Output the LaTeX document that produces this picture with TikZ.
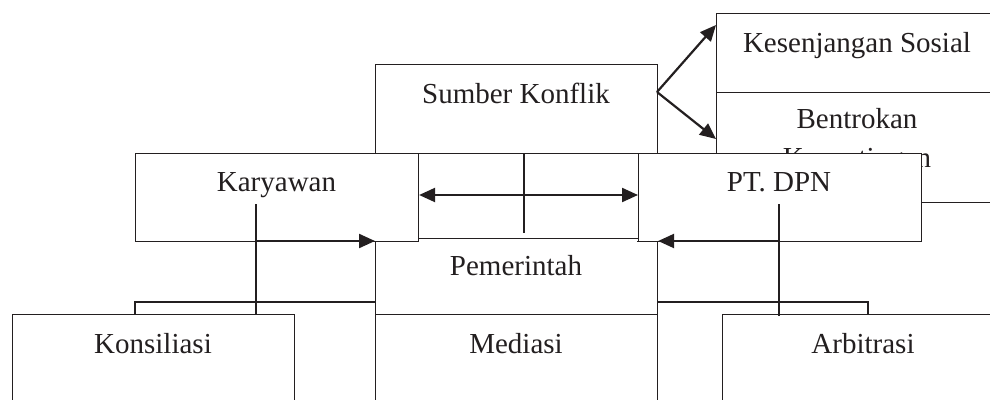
\documentclass[tikz,border=0pt]{standalone}
\usepackage{fontspec}
\setmainfont{Liberation Serif}
\usetikzlibrary{arrows.meta}
\definecolor{ink}{RGB}{35,31,32}
\begin{document}
\begin{tikzpicture}[x=1pt,y=-1pt,
  box/.style={draw=ink, line width=1.1pt, fill=white, rectangle, inner sep=0pt, anchor=north west},
  txt/.style={inner sep=0pt, anchor=base, text=ink, font=\fontsize{29}{35}\selectfont},
  thin/.style={draw=ink, line width=1.1pt},
  arr/.style={draw=ink, line width=2.2pt, -{Triangle[length=16pt,width=14pt]}},
  darr/.style={draw=ink, line width=2.2pt, {Triangle[length=16pt,width=14pt]}-{Triangle[length=16pt,width=14pt]}}]
\useasboundingbox (0,0) rectangle (990,399);
\clip (0,0) rectangle (990,399);
% right column
\node[box, minimum width=282pt, minimum height=79pt] (kes) at (716,13) {};
\node[txt] (kes-t) at (857,52) {Kesenjangan Sosial};
\node[box, minimum width=282pt, minimum height=110pt] (ben) at (716,92) {};
\node[txt] (ben-t1) at (857,128) {Bentrokan};
\node[txt] (ben-t2) at (857,167) {Kepentingan};
% centre
\node[box, minimum width=282pt, minimum height=89pt] (sk) at (375,64) {};
\node[txt] (sk-t) at (516,103) {Sumber Konflik};
\node[box, minimum width=282pt, minimum height=73pt] (pem) at (375,241) {};
\node[txt] (pem-t) at (516,275) {Pemerintah};
\fill[white] (419,236) rectangle (637,242.5);
\node[box, minimum width=220pt, minimum height=85pt] (mid) at (418,153) {};
\node[box, minimum width=282pt, minimum height=110pt] (med) at (375,314) {};
\node[txt] (med-t) at (516,353) {Mediasi};
\node[box, minimum width=282pt, minimum height=110pt] (kon) at (12,314) {};
\node[txt] (kon-t) at (153,353) {Konsiliasi};
\node[box, minimum width=282pt, minimum height=110pt] (arb) at (722,314) {};
\node[txt] (arb-t) at (863,353) {Arbitrasi};
% parties
\node[box, minimum width=283pt, minimum height=88pt] (kar) at (135,153) {};
\node[txt] (kar-t) at (276.5,191) {Karyawan};
\node[box, minimum width=283pt, minimum height=88pt] (dpn) at (638,153) {};
\node[txt] (dpn-t) at (779,191) {PT. DPN};
% coordinates
\coordinate (skout) at (657,92);
\coordinate (kesin) at (716,25);
\coordinate (benin) at (716,139);
\coordinate (karv) at (256,204);
\coordinate (karb) at (256,241);
\coordinate (konv) at (256,315);
\coordinate (dpnv) at (779,204);
\coordinate (dpnb) at (779,241);
\coordinate (arbv) at (779,316);
\coordinate (midv1) at (524,153);
\coordinate (midv2) at (524,233);
\coordinate (lb1) at (135,314);
\coordinate (lb2) at (135,302);
\coordinate (lb3) at (375,302);
\coordinate (rb1) at (657,302);
\coordinate (rb2) at (868,302);
\coordinate (rb3) at (868,314);
% brackets and lines
\draw[thin] (lb1) -- (lb2) -- (lb3);
\draw[thin] (rb1) -- (rb2) -- (rb3);
\draw[thin] (karv) -- (konv);
\draw[thin] (dpnv) -- (arbv);
\draw[thin] (midv1) -- (midv2);
% arrows
\draw[arr] (karb) -- (pem.north west);
\draw[arr] (dpnb) -- (pem.north east);
\draw[darr] (kar.east |- 0,195) -- (dpn.west |- 0,195);
\draw[arr] (skout) -- (kesin);
\draw[arr] (skout) -- (benin);
\end{tikzpicture}
\end{document}
